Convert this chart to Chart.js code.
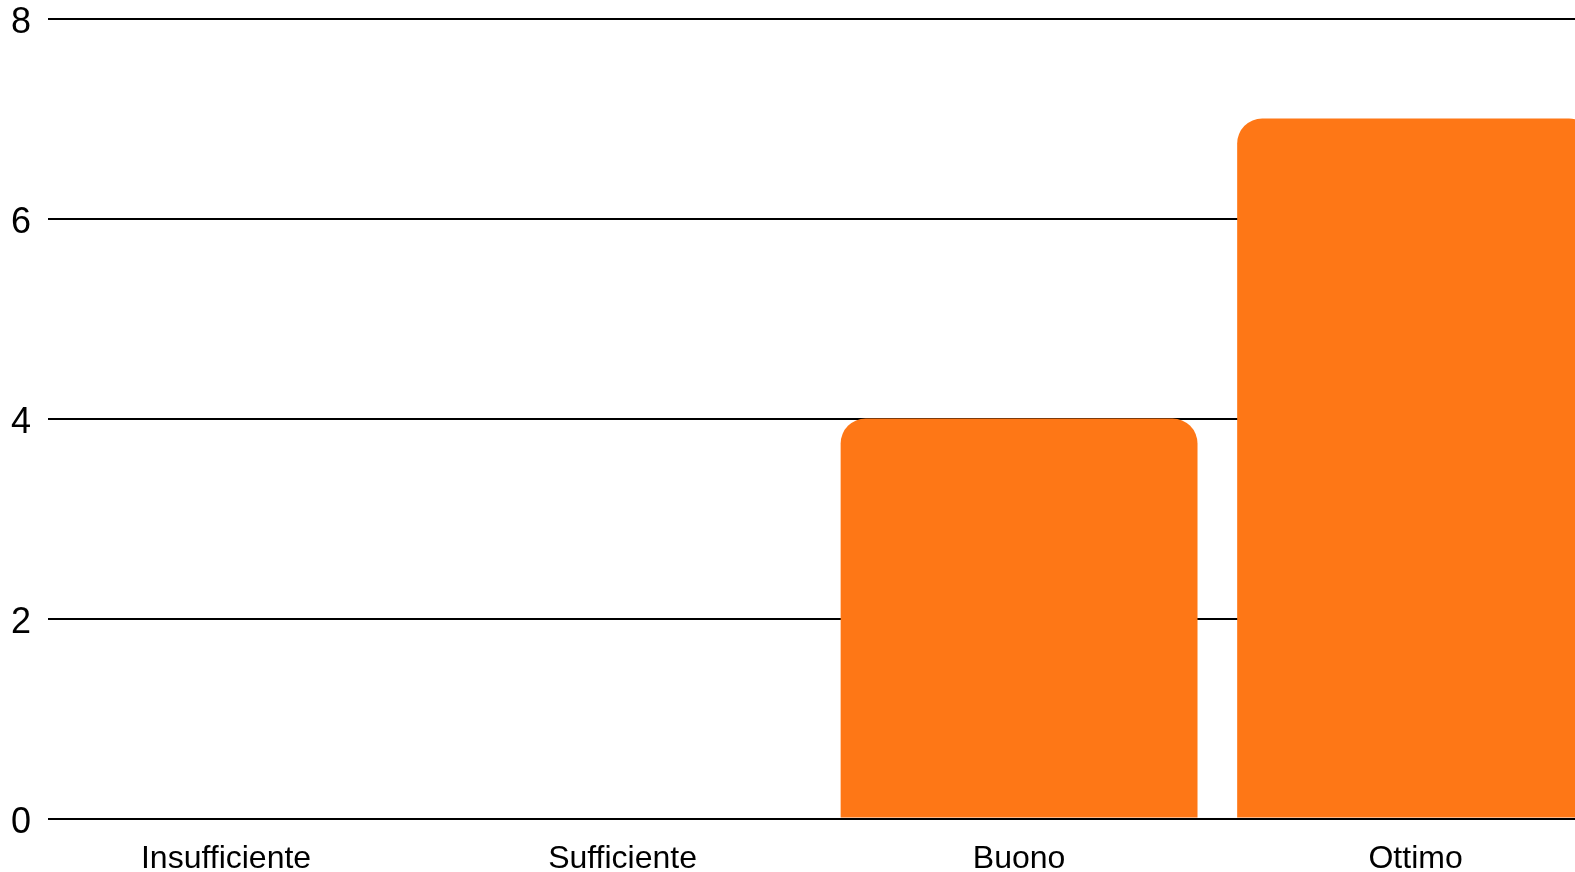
<!DOCTYPE html>
<html>
<head>
<meta charset="utf-8">
<script src="https://cdn.jsdelivr.net/npm/chart.js@4.4.1/dist/chart.umd.min.js"></script>
<style>
    html, body { margin: 0; padding: 0; background: #fff; overflow: hidden; }
    #chart { position: absolute; left: 0; top: 0; }
</style>
</head>
<body>
<canvas id="chart" width="1575" height="874"></canvas>
<script>
var categories = ["Insufficiente", "Sufficiente", "Buono", "Ottimo"];
var values = [0, 0, 4, 7];
var yTicks = [0, 2, 4, 6, 8];

var points = [];
for (let i = 0; i < categories.length; i++) {
    points.push({ x: i, y: values[i] });
}

var ctx = document.getElementById("chart");
var barChart = new Chart(ctx, {
    type: "bar",
    data: {
        datasets: [{
            data: points,
            backgroundColor: "#fe7716",
            borderWidth: 0,
            borderRadius: 25,
            borderSkipped: "start",
            categoryPercentage: 1,
            barPercentage: 0.9,
        }, ],
    },
    options: {
        responsive: false,
        animation: false,
        layout: {
            padding: 0,
        },
        plugins: {
            legend: { display: false },
            tooltip: { enabled: false },
        },
        scales: {
            x: {
                type: "linear",
                offset: false,
                min: -0.449,
                max: 3.402,
                grid: { display: false },
                border: { display: false },
                afterFit: function(scale) {
                    scale.height = 55.5;
                },
                ticks: {
                    stepSize: 1,
                    includeBounds: false,
                    autoSkip: false,
                    maxRotation: 0,
                    padding: 13,
                    color: "#000",
                    font: { family: "Liberation Sans", size: 32 },
                    callback: function(v) {
                        return Number.isInteger(v) ? categories[v] : "";
                    },
                },
            },
            y: {
                min: yTicks[0],
                max: yTicks[yTicks.length - 1],
                border: { display: false },
                grid: {
                    color: "#000",
                    lineWidth: 2,
                    drawTicks: false,
                },
                // keep the labels 17px off the grid but don't let that push the top down
                afterFit: function(scale) {
                    scale.width = 48;
                    scale.paddingTop = 18.5;
                },
                ticks: {
                    stepSize: 2,
                    padding: 17,
                    labelOffset: 5,
                    color: "#000",
                    font: { family: "Liberation Sans", size: 36, lineHeight: 1.1 },
                },
            },
        },
    },
});
</script>
</body>
</html>
